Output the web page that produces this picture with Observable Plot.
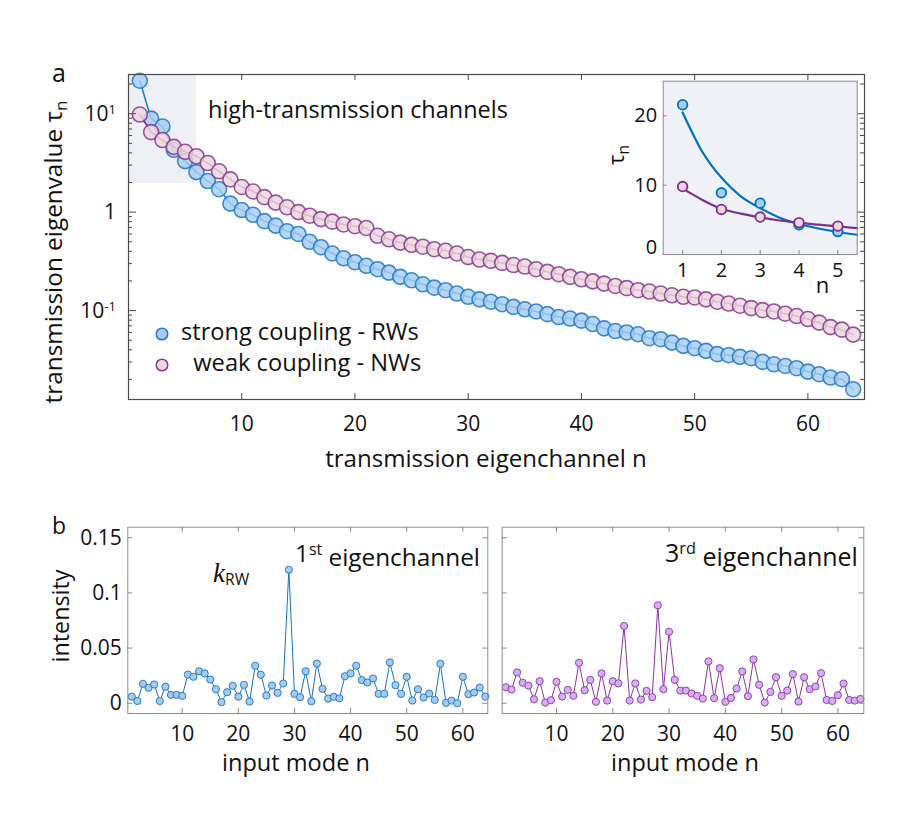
<!DOCTYPE html>
<html>
<head>
<meta charset="utf-8">
<script src="https://cdn.jsdelivr.net/npm/d3@7"></script>
<script src="https://cdn.jsdelivr.net/npm/@observablehq/plot@0.6"></script>
<style>
  html,body{margin:0;padding:0;background:#fff;}
  #wrap{position:relative;width:905px;height:813px;overflow:hidden;font-family:"Open Sans",sans-serif;}
  #wrap > div{position:absolute;}
  svg{overflow:visible}
</style>
</head>
<body>
<div id="wrap">
  <div id="main" style="left:0;top:0"></div>
  <div id="inset" style="left:600px;top:70px"></div>
  <div id="b1" style="left:0;top:480px"></div>
  <div id="b2" style="left:490px;top:480px"></div>
</div>
<script>
const FONT = '"Open Sans", sans-serif';

// ---------- data ----------
const channel = d3.range(1, 65);
const tauRW = [21.6, 8.9, 7.4, 4.3, 3.3, 2.55, 2.07, 1.71, 1.22, 1.05,
  0.94, 0.81, 0.73, 0.64, 0.60, 0.50, 0.44, 0.38, 0.34, 0.31,
  0.285, 0.263, 0.243, 0.22, 0.203, 0.185, 0.171, 0.161, 0.149, 0.138,
  0.130, 0.123, 0.116, 0.109, 0.103, 0.098, 0.092, 0.086, 0.083, 0.079,
  0.073, 0.066, 0.062, 0.060, 0.0575, 0.0524, 0.0512, 0.0473, 0.0438, 0.0415,
  0.039, 0.0361, 0.0352, 0.0339, 0.0328, 0.0301, 0.0285, 0.0274, 0.026, 0.024,
  0.0226, 0.0209, 0.0201, 0.0159];
const tauNW = [9.8, 6.5, 5.4, 4.6, 4.1, 3.7, 3.15, 2.6, 2.15, 1.8,
  1.62, 1.42, 1.25, 1.12, 1.0, 0.92, 0.85, 0.80, 0.75, 0.72,
  0.69, 0.575, 0.53, 0.49, 0.465, 0.445, 0.42, 0.405, 0.38, 0.35,
  0.33, 0.32, 0.305, 0.29, 0.28, 0.263, 0.247, 0.234, 0.22, 0.208,
  0.198, 0.188, 0.178, 0.169, 0.161, 0.156, 0.149, 0.143, 0.138, 0.136,
  0.130, 0.123, 0.118, 0.112, 0.106, 0.101, 0.098, 0.093, 0.088, 0.082,
  0.0755, 0.068, 0.064, 0.057];
const highX = [0, 6];
const highY = [1.95, 25];

const insetCount = 5;
const fitN  = [1, 1.5, 2, 2.5, 3, 3.5, 4, 4.5, 5, 5.5];
const fitRW = [20.5, 14.9, 11.1, 8.4, 6.7, 5.3, 4.4, 3.75, 3.25, 2.85];
const fitNW = [9.5, 7.9, 6.6, 5.9, 5.35, 4.9, 4.55, 4.3, 4.05, 3.8];

const modeN = d3.range(1, 65);
const intensity1 = [0.006,0.002,0.0176,0.014,0.017,0.002,0.015,0.0076,0.0076,0.0067,
  0.026,0.024,0.029,0.027,0.0215,0.0127,0.001,0.010,0.0158,0.006,
  0.0167,0.0015,0.034,0.0258,0.007,0.016,0.0094,0.0179,0.121,0.0085,
  0.0055,0.029,0.0018,0.036,0.013,0.0042,0.0058,0.0045,0.0245,0.027,
  0.034,0.021,0.0188,0.0224,0.0085,0.0085,0.037,0.0164,0.0085,0.024,
  0.0024,0.0127,0.0052,0.0088,0.003,0.0358,0.0003,0.0024,0.0,0.024,
  0.0082,0.0097,0.0142,0.006];
const intensity3 = [0.0145,0.0124,0.0279,0.0185,0.016,0.0036,0.020,0.0006,0.0027,0.0194,
  0.006,0.0121,0.0067,0.0367,0.0118,0.0212,0.0012,0.027,0.0024,0.020,
  0.018,0.070,0.0024,0.018,0.0033,0.0112,0.0055,0.0888,0.0127,0.0648,
  0.0212,0.0115,0.0115,0.0088,0.0067,0.0042,0.038,0.0045,0.0318,0.0012,
  0.0048,0.0133,0.0288,0.0064,0.0397,0.0167,0.0006,0.0103,0.0236,0.0067,
  0.0115,0.0264,0.0015,0.0236,0.0127,0.0152,0.0273,0.003,0.0021,0.0073,
  0.0179,0.003,0.0024,0.0039];

const mainXTicks = [10, 20, 30, 40, 50, 60];
const mainYMajor = [0.1, 1, 10];
const mainYMajorLabels = [["10", "-1"], ["1", ""], ["10", "1"]];
const mainYMinor = [0.02,0.03,0.04,0.05,0.06,0.07,0.08,0.09,0.2,0.3,0.4,0.5,0.6,0.7,0.8,0.9,2,3,4,5,6,7,8,9,20];
const insetXTicks = [1, 2, 3, 4, 5];
const insetYTicks = [0, 10, 20];
const bottomXTicks = [10, 20, 30, 40, 50, 60];
const bottomYTicks = [0, 0.05, 0.1, 0.15];
const bottomYLabels = ["0", "0.05", "0.1", "0.15"];

// ---------- helpers ----------
function txt(svg, x, y, size, opts = {}) {
  const t = d3.select(svg).append("text")
    .attr("x", x).attr("y", y).attr("font-size", size)
    .attr("font-family", opts.family || FONT).attr("fill", "#111")
    .attr("text-anchor", opts.anchor || "start");
  if (opts.rotate) t.attr("transform", `rotate(-90 ${x} ${y})`);
  if (opts.style) t.attr("font-style", opts.style);
  if (opts.weight) t.attr("font-weight", opts.weight);
  return t;
}
function fit(t, target) {
  const w = t.node().getComputedTextLength();
  if (w > 0) t.attr("font-size", parseFloat(t.attr("font-size")) * target / w);
}

// ---------- main panel ----------
const BLUE = "#1f78c4", BLUEF = "#a6cdf1";
const PURP = "#86378f", PURPF = "#ecd5dc";
const FR = "#4a4a4a";
const M = {w: 905, h: 480, l: 128, r: 41, t: 74, b: 81};
const mfw = M.w - M.l - M.r, mfh = M.h - M.t - M.b;
const rw = channel.map((n, i) => ({n, tau: tauRW[i]}));
const nw = channel.map((n, i) => ({n, tau: tauNW[i]}));

const mainSvg = Plot.plot({
  width: M.w, height: M.h, marginLeft: M.l, marginRight: M.r, marginTop: M.t, marginBottom: M.b,
  style: {background: "transparent", fontFamily: FONT, fontSize: "21px", color: "#111", overflow: "visible"},
  x: {domain: [0, 65]},
  y: {type: "log", domain: [0.0125, 25], axis: null},
  marks: [
    Plot.rect([{x1: highX[0], x2: highX[1], y1: highY[0], y2: highY[1]}], {x1: "x1", x2: "x2", y1: "y1", y2: "y2", fill: "#eef0f6"}),
    Plot.line(rw, {x: "n", y: "tau", stroke: BLUE, strokeWidth: 1.5}),
    Plot.dot(rw, {x: "n", y: "tau", r: 7.5, fill: BLUEF, fillOpacity: 0.82, stroke: BLUE, strokeWidth: 1.6, strokeOpacity: 0.85}),
    Plot.line(nw, {x: "n", y: "tau", stroke: PURP, strokeWidth: 1.5}),
    Plot.dot(nw, {x: "n", y: "tau", r: 7.5, fill: PURPF, fillOpacity: 0.82, stroke: PURP, strokeWidth: 1.6, strokeOpacity: 0.85}),
    Plot.tickX(mainXTicks, {x: d => d, insetTop: mfh - 6, stroke: FR}),
    Plot.tickX(mainXTicks, {x: d => d, insetBottom: mfh - 6, stroke: FR}),
    Plot.tickY(mainYMajor, {y: d => d, insetRight: mfw - 8, stroke: FR}),
    Plot.tickY(mainYMajor, {y: d => d, insetLeft: mfw - 8, stroke: FR}),
    Plot.tickY(mainYMinor, {y: d => d, insetRight: mfw - 4, stroke: FR}),
    Plot.tickY(mainYMinor, {y: d => d, insetLeft: mfw - 4, stroke: FR}),
    Plot.frame({stroke: FR, strokeWidth: 1.2}),
    Plot.axisX(mainXTicks, {tickSize: 0, tickPadding: 17, label: null, fontSize: 21})
  ]
});
document.getElementById("main").appendChild(mainSvg);

// ---------- inset ----------
const I = {w: 270, h: 230, l: 62.7, r: 13.3, t: 10.7, b: 46};
const ifw = I.w - I.l - I.r, ifh = I.h - I.t - I.b;
const fitRWd = fitN.map((n, i) => ({n, tau: fitRW[i]}));
const fitNWd = fitN.map((n, i) => ({n, tau: fitNW[i]}));
const insetSvg = Plot.plot({
  width: I.w, height: I.h, marginLeft: I.l, marginRight: I.r, marginTop: I.t, marginBottom: I.b,
  style: {background: "transparent", fontFamily: FONT, fontSize: "20px", color: "#111", overflow: "visible"},
  x: {domain: [0.5, 5.5]},
  y: {domain: [0, 25], axis: null},
  marks: [
    Plot.frame({fill: "#eff1f7", stroke: "none"}),
    Plot.line(fitRWd, {x: "n", y: "tau", curve: "natural", stroke: "#0072bd", strokeWidth: 2.2}),
    Plot.line(fitNWd, {x: "n", y: "tau", curve: "natural", stroke: "#7e2f8e", strokeWidth: 2.2}),
    Plot.dot(rw.slice(0, insetCount), {x: "n", y: "tau", r: 4.8, fill: BLUEF, stroke: "#0072bd", strokeWidth: 1.8}),
    Plot.dot(nw.slice(0, insetCount), {x: "n", y: "tau", r: 4.8, fill: PURPF, stroke: "#7e2f8e", strokeWidth: 1.8}),
    Plot.tickX(insetXTicks, {x: d => d, insetTop: ifh - 4, stroke: "#888"}),
    Plot.tickY(insetYTicks, {y: d => d, insetRight: ifw - 4, stroke: "#888"}),
    Plot.frame({stroke: "#8a8a8a"}),
    Plot.axisX(insetXTicks, {tickSize: 0, tickPadding: 8, label: null, fontSize: 20}),
    Plot.axisY([10, 20], {tickSize: 0, tickPadding: 6, label: null, fontSize: 20}),
    Plot.axisY([0], {tickSize: 0, tickPadding: 6, dy: -7, label: null, fontSize: 20})
  ]
});
document.getElementById("inset").appendChild(insetSvg);

// ---------- bottom panels ----------
function panel(elId, vals, o) {
  const d = modeN.map((n, i) => ({n, v: vals[i]}));
  const H = 320, T = 46.7, B = 87;
  const fw = o.w - o.l - o.r, fh = H - T - B;
  const fc = "#8c8c8c";
  const marks = [
    Plot.line(d, {x: "n", y: "v", stroke: o.stroke, strokeWidth: 1}),
    Plot.dot(d, {x: "n", y: "v", r: 3.6, fill: o.fill, stroke: o.stroke, strokeWidth: 0.9}),
    Plot.tickX(bottomXTicks, {x: d => d, insetTop: fh - 5, stroke: fc}),
    Plot.tickX(bottomXTicks, {x: d => d, insetBottom: fh - 5, stroke: fc}),
    Plot.tickY(bottomYTicks, {y: d => d, insetRight: fw - 5, stroke: fc}),
    Plot.tickY(bottomYTicks, {y: d => d, insetLeft: fw - 5, stroke: fc}),
    Plot.frame({stroke: fc}),
    Plot.axisX(bottomXTicks, {tickSize: 0, tickPadding: 12.5, label: null, fontSize: 21})
  ];
  if (o.showY) marks.push(Plot.axisY(bottomYTicks, {tickSize: 0, tickPadding: 6, label: null, fontSize: 21,
    tickFormat: v => bottomYLabels[bottomYTicks.indexOf(v)]}));
  const svg = Plot.plot({
    width: o.w, height: H, marginLeft: o.l, marginRight: o.r, marginTop: T, marginBottom: B,
    style: {background: "transparent", fontFamily: FONT, fontSize: "21px", color: "#111", overflow: "visible"},
    x: {domain: o.xd},
    y: {domain: [-0.0093, 0.1596], axis: null},
    marks
  });
  document.getElementById(elId).appendChild(svg);
  return svg;
}
const b1 = panel("b1", intensity1, {w: 490, l: 127.3, r: 2.7, xd: [0.3, 64.45], stroke: "#1b73bd", fill: "#a3cbef", showY: true});
const b2 = panel("b2", intensity3, {w: 415, l: 11.7, r: 41.7, xd: [0.35, 64.6], stroke: "#8a36a0", fill: "#d5aef3", showY: false});

// ---------- main texts ----------
const ys = mainSvg.scale("y");
mainYMajor.forEach((v, i) => {
  const [base, sup] = mainYMajorLabels[i];
  const t = txt(mainSvg, 116, ys.apply(v), 21, {anchor: "end"}).attr("dy", "0.36em");
  t.append("tspan").text(base);
  if (sup) t.append("tspan").attr("dy", "-0.5em").attr("font-size", "0.62em").text(sup);
});
txt(mainSvg, 52, 82, 25).text("a");
fit(txt(mainSvg, 208, 118.3, 23).text("high-transmission channels"), 300);
fit(txt(mainSvg, 486, 467, 23, {anchor: "middle"}).text("transmission eigenchannel n"), 322);
{
  const t = txt(mainSvg, 62, 252, 23, {anchor: "middle", rotate: true});
  t.append("tspan").text("transmission eigenvalue τ");
  t.append("tspan").attr("dy", "0.3em").attr("font-size", "0.7em").text("n");
  fit(t, 303);
}
// legend
const lg = d3.select(mainSvg);
lg.append("circle").attr("cx", 162).attr("cy", 334).attr("r", 5.8).attr("fill", BLUEF).attr("stroke", BLUE).attr("stroke-width", 1.5);
lg.append("circle").attr("cx", 162).attr("cy", 365).attr("r", 5.8).attr("fill", PURPF).attr("stroke", PURP).attr("stroke-width", 1.5);
fit(txt(mainSvg, 181, 339.5, 23).text("strong coupling - RWs"), 238);
fit(txt(mainSvg, 193.3, 370.8, 23).text("weak coupling - NWs"), 228);
// inset labels
{
  const t = txt(mainSvg, 624, 155, 22, {anchor: "middle", rotate: true});
  t.append("tspan").text("τ");
  t.append("tspan").attr("dy", "0.3em").attr("font-size", "0.7em").text("n");
}
txt(mainSvg, 822.5, 293, 22, {anchor: "middle"}).text("n");

// ---------- bottom texts ----------
txt(b1, 52, 54, 23).text("b");
fit(txt(b1, 69, 136, 23, {anchor: "middle", rotate: true}).text("intensity"), 93);
fit(txt(b1, 296, 291, 23, {anchor: "middle"}).text("input mode n"), 148);
fit(txt(b2, 195, 291, 23, {anchor: "middle"}).text("input mode n"), 148);
{
  const t = txt(b1, 295, 81.7, 24);
  t.append("tspan").text("1");
  t.append("tspan").attr("dy", "-0.45em").attr("font-size", "0.65em").text("st");
  t.append("tspan").attr("dy", "0.45em").text(" eigenchannel");
  fit(t, 185);
}
{
  const t = txt(b2, 175, 81.7, 24);
  t.append("tspan").text("3");
  t.append("tspan").attr("dy", "-0.45em").attr("font-size", "0.65em").text("rd");
  t.append("tspan").attr("dy", "0.45em").text(" eigenchannel");
  fit(t, 193);
}
{
  const t = txt(b1, 213, 102, 27, {family: '"Liberation Serif", serif', style: "italic"});
  t.append("tspan").text("k");
  t.append("tspan").attr("dy", "0.22em").attr("font-size", "0.58em").attr("font-style", "normal").attr("font-family", FONT).text("RW");
}
</script>
</body>
</html>
